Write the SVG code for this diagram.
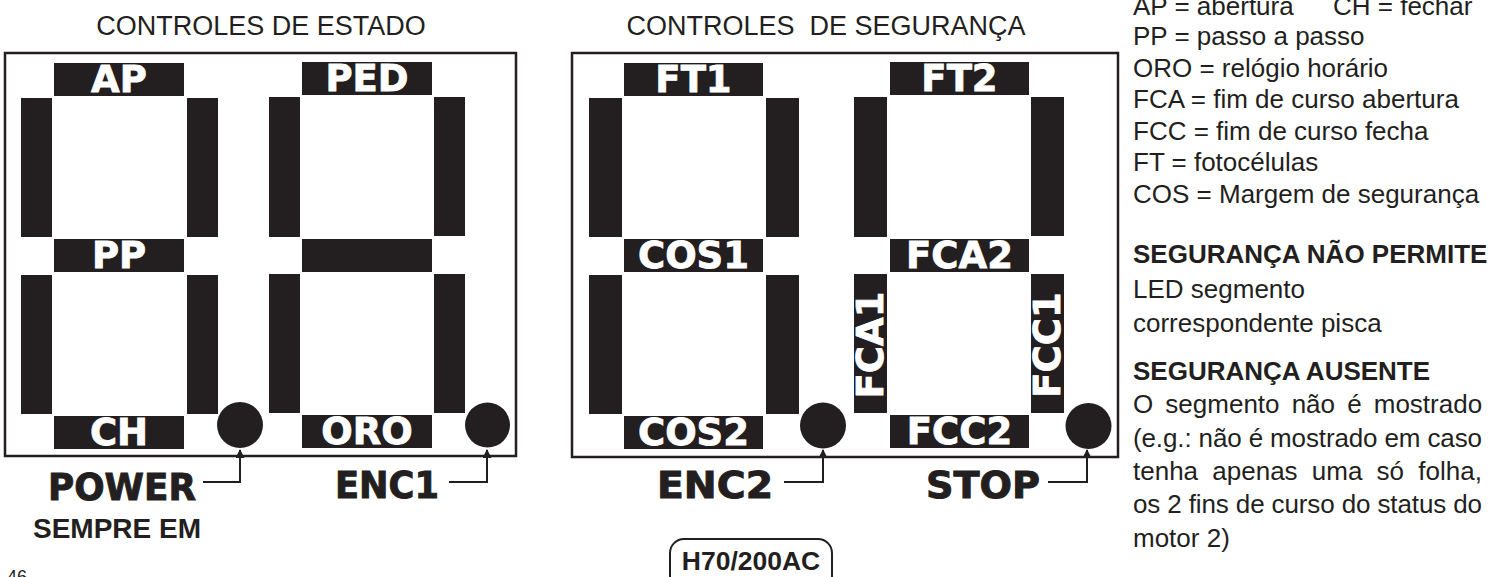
<svg xmlns="http://www.w3.org/2000/svg" width="1494" height="577" viewBox="0 0 1494 577">
<style>
.bg{fill:#ffffff}
.panel{fill:none;stroke:#231f20;stroke-width:2.5}
.seg{fill:#231f20}
.segt{font-family:"DejaVu Sans",sans-serif;font-weight:bold;font-size:37px;fill:#ffffff;stroke:#ffffff;stroke-width:0.8;text-anchor:middle}
.led{fill:#231f20}
.title{font-family:"Liberation Sans",Arial,sans-serif;font-size:27px;fill:#231f20;text-anchor:middle}
.big{font-family:"DejaVu Sans",sans-serif;font-weight:bold;font-size:38px;fill:#231f20;stroke:#231f20;stroke-width:1}
.sub{font-family:"Liberation Sans",Arial,sans-serif;font-weight:bold;font-size:28px;fill:#231f20}
.leg{font-family:"Liberation Sans",Arial,sans-serif;font-size:26px;fill:#231f20}
.legb{font-family:"Liberation Sans",Arial,sans-serif;font-size:26px;font-weight:bold;fill:#231f20}
.conn{fill:none;stroke:#231f20;stroke-width:2}
</style>
<defs>
<marker id="arr" viewBox="0 0 10 10" refX="9" refY="5" markerWidth="12" markerHeight="9" markerUnits="userSpaceOnUse" orient="auto">
<path d="M0,0 L10,5 L0,10 Z" fill="#231f20"/>
</marker>
</defs>
<rect class="bg" x="0" y="0" width="1494" height="577"/>

<text class="title" x="261" y="35">CONTROLES DE ESTADO</text>
<text class="title" x="826" y="35">CONTROLES&#160; DE SEGURANÇA</text>

<g id="panel-estado">
<rect class="panel" x="5" y="53" width="511" height="403"/>
<g id="seg-AP"><rect class="seg" x="54" y="63" width="130" height="33"/><text class="segt" x="119" y="92">AP</text></g>
<g id="seg-a-ul"><rect class="seg" x="21" y="98" width="31" height="139"/></g>
<g id="seg-a-ur"><rect class="seg" x="187" y="98" width="31" height="139"/></g>
<g id="seg-PP"><rect class="seg" x="54" y="239" width="130" height="33"/><text class="segt" x="119" y="268">PP</text></g>
<g id="seg-a-ll"><rect class="seg" x="21" y="275" width="31" height="139"/></g>
<g id="seg-a-lr"><rect class="seg" x="187" y="275" width="31" height="139"/></g>
<g id="seg-CH"><rect class="seg" x="54" y="416" width="130" height="33"/><text class="segt" x="119" y="445">CH</text></g>
<g id="led-power"><circle class="led" cx="240" cy="425" r="23"/></g>

<g id="seg-PED"><rect class="seg" x="302" y="62" width="130" height="33"/><text class="segt" x="367" y="91">PED</text></g>
<g id="seg-b-ul"><rect class="seg" x="269" y="97" width="31" height="140"/></g>
<g id="seg-b-ur"><rect class="seg" x="434" y="97" width="31" height="139"/></g>
<g id="seg-b-mid"><rect class="seg" x="302" y="239" width="130" height="33"/></g>
<g id="seg-b-ll"><rect class="seg" x="269" y="274" width="31" height="139"/></g>
<g id="seg-b-lr"><rect class="seg" x="434" y="274" width="31" height="139"/></g>
<g id="seg-ORO"><rect class="seg" x="302" y="415" width="130" height="33"/><text class="segt" x="367" y="444">ORO</text></g>
<g id="led-enc1"><circle class="led" cx="487.5" cy="425" r="22.5"/></g>
</g>

<g id="panel-seguranca">
<rect class="panel" x="572" y="53" width="546" height="404"/>
<g id="seg-FT1"><rect class="seg" x="624" y="63" width="139" height="33"/><text class="segt" x="693.5" y="92">FT1</text></g>
<g id="seg-c-ul"><rect class="seg" x="589" y="98" width="33" height="139"/></g>
<g id="seg-c-ur"><rect class="seg" x="766" y="98" width="33" height="139"/></g>
<g id="seg-COS1"><rect class="seg" x="624" y="239" width="139" height="33"/><text class="segt" x="693.5" y="268">COS1</text></g>
<g id="seg-c-ll"><rect class="seg" x="589" y="275" width="33" height="139"/></g>
<g id="seg-c-lr"><rect class="seg" x="766" y="275" width="33" height="139"/></g>
<g id="seg-COS2"><rect class="seg" x="624" y="416" width="139" height="33"/><text class="segt" x="693.5" y="445">COS2</text></g>
<g id="led-enc2"><circle class="led" cx="823" cy="425.5" r="23"/></g>

<g id="seg-FT2"><rect class="seg" x="890" y="62" width="139" height="33"/><text class="segt" x="959.5" y="91">FT2</text></g>
<g id="seg-d-ul"><rect class="seg" x="854" y="97" width="33" height="140"/></g>
<g id="seg-d-ur"><rect class="seg" x="1031" y="97" width="33" height="139"/></g>
<g id="seg-FCA2"><rect class="seg" x="890" y="239" width="139" height="33"/><text class="segt" x="959.5" y="268">FCA2</text></g>
<g id="seg-FCA1"><rect class="seg" x="854" y="274" width="33" height="139"/><text class="segt" transform="translate(883,345) rotate(-90)" x="0" y="0">FCA1</text></g>
<g id="seg-FCC1"><rect class="seg" x="1031" y="274" width="33" height="139"/><text class="segt" transform="translate(1060,345) rotate(-90)" x="0" y="0">FCC1</text></g>
<g id="seg-FCC2"><rect class="seg" x="890" y="415" width="139" height="33"/><text class="segt" x="959.5" y="444">FCC2</text></g>
<g id="led-stop"><circle class="led" cx="1088.5" cy="426" r="23"/></g>
</g>

<g id="connectors">
<path class="conn" d="M203,482 H240 V450" marker-end="url(#arr)"/>
<path class="conn" d="M449,482 H487 V450" marker-end="url(#arr)"/>
<path class="conn" d="M784,482 H823 V450" marker-end="url(#arr)"/>
<path class="conn" d="M1048,482 H1087 V450" marker-end="url(#arr)"/>
</g>

<g id="label-power"><text class="big" x="48" y="500" textLength="148" lengthAdjust="spacingAndGlyphs">POWER</text></g>
<g id="label-sempre"><text class="sub" x="33" y="538">SEMPRE EM</text></g>
<g id="label-enc1"><text class="big" x="335" y="498" textLength="104" lengthAdjust="spacingAndGlyphs">ENC1</text></g>
<g id="label-enc2"><text class="big" x="657" y="498" textLength="116" lengthAdjust="spacingAndGlyphs">ENC2</text></g>
<g id="label-stop"><text class="big" x="926" y="498" textLength="114" lengthAdjust="spacingAndGlyphs">STOP</text></g>

<g id="model-badge">
<rect x="670" y="539" width="162" height="56" rx="14" ry="14" fill="none" stroke="#231f20" stroke-width="2"/>
<text class="sub" x="751" y="570" text-anchor="middle" style="font-size:26.5px">H70/200AC</text>
</g>

<text x="7" y="583" style="font-family:'Liberation Sans',Arial,sans-serif;font-size:18px;fill:#231f20">46</text>

<g id="legend">
<text class="leg" x="1133" y="14.5">AP = abertura</text>
<text class="leg" x="1333" y="14.5">CH = fechar</text>
<text class="leg" x="1133" y="45">PP = passo a passo</text>
<text class="leg" x="1133" y="76.5">ORO = relógio horário</text>
<text class="leg" x="1133" y="108">FCA = fim de curso abertura</text>
<text class="leg" x="1133" y="139.5">FCC = fim de curso fecha</text>
<text class="leg" x="1133" y="171">FT = fotocélulas</text>
<text class="leg" x="1133" y="202.5">COS = Margem de segurança</text>
<text class="legb" x="1133" y="263">SEGURANÇA NÃO PERMITE</text>
<text class="leg" x="1133" y="298">LED segmento</text>
<text class="leg" x="1133" y="332">correspondente pisca</text>
<text class="legb" x="1133" y="380">SEGURANÇA AUSENTE</text>
<text class="leg" x="1133" y="413" word-spacing="4.9">O segmento não é mostrado</text>
<text class="leg" x="1133" y="447" textLength="349" lengthAdjust="spacing">(e.g.: não é mostrado em caso</text>
<text class="leg" x="1133" y="480" word-spacing="7">tenha apenas uma só folha,</text>
<text class="leg" x="1133" y="513" textLength="349" lengthAdjust="spacing">os 2 fins de curso do status do</text>
<text class="leg" x="1133" y="547">motor 2)</text>
</g>
</svg>
